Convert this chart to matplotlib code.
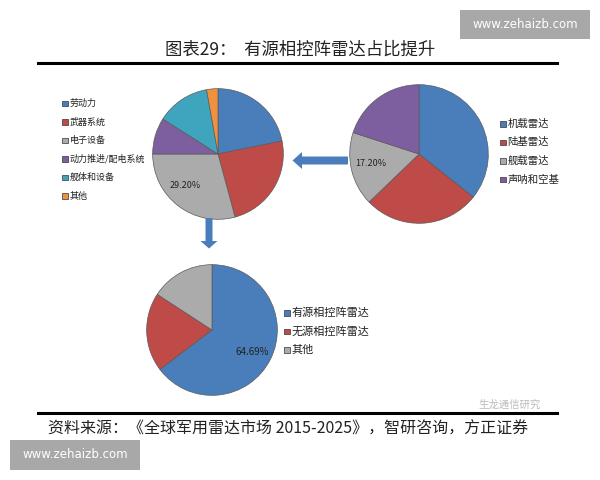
import matplotlib
matplotlib.use("Agg")
import matplotlib.pyplot as plt
from matplotlib.patches import Rectangle, FancyArrow

plt.rcParams['font.family'] = ['Noto Sans CJK SC', 'DejaVu Sans']

# 数据
left_labels = ['劳动力', '武器系统', '电子设备', '动力推进/配电系统', '舰体和设备', '其他']
left_values = [21.8, 24.0, 29.2, 9.0, 13.2, 2.8]
left_colors = ['#4A7EBB', '#BE4B48', '#ABABAB', '#7D5FA0', '#3FA4BE', '#F0913F']

right_labels = ['机载雷达', '陆基雷达', '舰载雷达', '声呐和空基']
right_values = [35.7, 27.1, 17.2, 20.0]
right_colors = ['#4A7EBB', '#BE4B48', '#ABABAB', '#7D5FA0']

bottom_labels = ['有源相控阵雷达', '无源相控阵雷达', '其他']
bottom_values = [64.69, 19.5, 15.81]
bottom_colors = ['#4A7EBB', '#BE4B48', '#ABABAB']

title = '图表29：  有源相控阵雷达占比提升'
source = '资料来源：《全球军用雷达市场 2015-2025》，智研咨询，方正证券'

W, H = 600, 480
fig = plt.figure(figsize=(6, 4.8), dpi=100)


# 按像素位置放一个饼图
def pie_at(cx, cy, r, values, colors, pct_idx, pct_pos, fs):
    ax = fig.add_axes([(cx - r) / W, 1 - (cy + r) / H, 2 * r / W, 2 * r / H])
    wedges, _ = ax.pie(values, colors=colors, startangle=90, counterclock=False,
                       wedgeprops=dict(edgecolor='#5a5a5a', linewidth=0.5))
    ax.set_xlim(-1.01, 1.01)
    ax.set_ylim(-1.01, 1.01)
    ax.set_aspect('equal')
    ax.axis('off')
    ax.text(pct_pos[0], pct_pos[1], f'{values[pct_idx]:.2f}%', fontsize=fs,
            ha='center', va='center', color='#222222')
    return ax


pie_at(218, 154, 66, left_values, left_colors, 2, (-0.5, -0.48), 6.5)
pie_at(419, 154, 70, right_values, right_colors, 2, (-0.7, -0.13), 6.5)
pie_at(212, 330, 66, bottom_values, bottom_colors, 0, (0.62, -0.33), 7)

# 叠加层：像素坐标
ov = fig.add_axes([0, 0, 1, 1])
ov.set_xlim(0, W)
ov.set_ylim(H, 0)
ov.axis('off')


def legend_at(x, ys, labels, colors, fs, sq=5.5):
    for y, lab, c in zip(ys, labels, colors):
        ov.add_patch(Rectangle((x, y - sq / 2), sq, sq, facecolor=c,
                               edgecolor='#333333', linewidth=0.5))
        ov.text(x + sq + 2, y, lab, fontsize=fs, va='center', ha='left', color='#222222')


legend_at(62, [103.5, 122, 140.5, 159, 177.5, 196], left_labels, left_colors, 6.5)
legend_at(500, [124, 142.5, 161, 179.5], right_labels, right_colors, 7.5)
legend_at(284, [313, 331.5, 350], bottom_labels, bottom_colors, 8)

# 箭头
ov.add_patch(FancyArrow(348, 160.5, -46, 0, width=8, head_width=17, head_length=9.5,
                        length_includes_head=False, color='#4A7EBB', linewidth=0))
ov.add_patch(FancyArrow(209, 218, 0, 23, width=7, head_width=17, head_length=7.5,
                        length_includes_head=False, color='#4A7EBB', linewidth=0))

# 标题和线
ov.text(300, 50, title, fontsize=12.5, ha='center', va='center', color='#222222')
ov.plot([38, 557], [63, 63], color='black', linewidth=2.2)
ov.plot([38, 557], [413, 413], color='black', linewidth=2.2)
ov.text(288, 429, source, fontsize=11.5, ha='center', va='center', color='#222222')
ov.text(510, 405, '生龙通信研究', fontsize=7.5, ha='center', va='center', color='#bbbbbb')

# 水印
ov.add_patch(Rectangle((460, 10), 130, 29, facecolor='#A8A8A8', edgecolor='none'))
ov.text(525, 25, 'www.zehaizb.com', fontsize=8.5, ha='center', va='center', color='white',
        family='DejaVu Sans')
ov.add_patch(Rectangle((10, 440), 130, 30, facecolor='#A8A8A8', edgecolor='none'))
ov.text(75, 455, 'www.zehaizb.com', fontsize=8.5, ha='center', va='center', color='white',
        family='DejaVu Sans')

fig.savefig('out.png', dpi=100)
